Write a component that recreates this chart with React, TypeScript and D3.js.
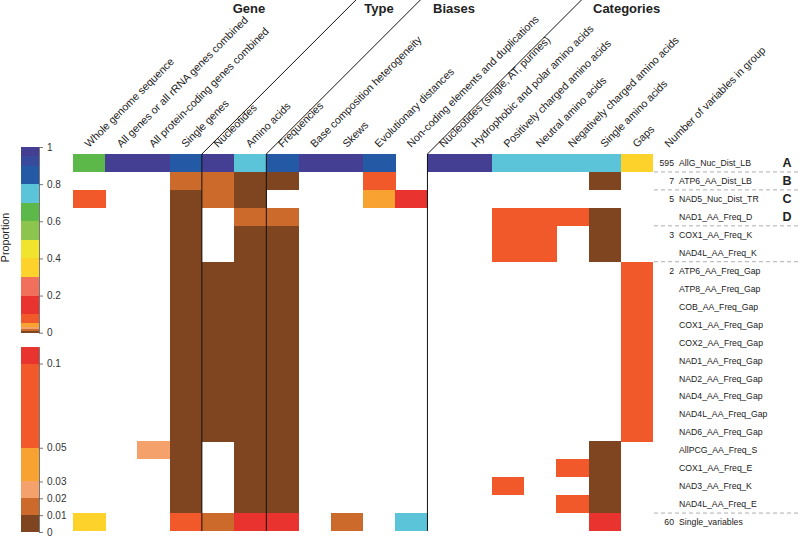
import React, { useEffect, useRef } from "react";
import * as d3 from "d3";

const columns = [
  "Whole genome sequence",
  "All genes or all rRNA genes combined",
  "All protein-coding genes combined",
  "Single genes",
  "Nucleotides",
  "Amino acids",
  "Frequencies",
  "Base composition heterogeneity",
  "Skews",
  "Evolutionary distances",
  "Non-coding elements and duplications",
  "Nucleotides (single, AT, purines)",
  "Hydrophobic and polar amino acids",
  "Positively charged amino acids",
  "Neutral amino acids",
  "Negatively charged amino acids",
  "Single amino acids",
  "Gaps",
];
const countHeader = "Number of variables in group";
const groupHeaders = ["Gene", "Type", "Biases", "Categories"];

const rowNames = [
  "AllG_Nuc_Dist_LB",
  "ATP6_AA_Dist_LB",
  "NAD5_Nuc_Dist_TR",
  "NAD1_AA_Freq_D",
  "COX1_AA_Freq_K",
  "NAD4L_AA_Freq_K",
  "ATP6_AA_Freq_Gap",
  "ATP8_AA_Freq_Gap",
  "COB_AA_Freq_Gap",
  "COX1_AA_Freq_Gap",
  "COX2_AA_Freq_Gap",
  "NAD1_AA_Freq_Gap",
  "NAD2_AA_Freq_Gap",
  "NAD4_AA_Freq_Gap",
  "NAD4L_AA_Freq_Gap",
  "NAD6_AA_Freq_Gap",
  "AllPCG_AA_Freq_S",
  "COX1_AA_Freq_E",
  "NAD3_AA_Freq_K",
  "NAD4L_AA_Freq_E",
  "Single_variables",
];
const groupCounts = ["595", "7", "5", "", "3", "", "2", "", "", "", "", "", "", "", "", "", "", "", "", "", "60"];
const groupLetters = ["A", "B", "C", "D"];
// column indexes before which a separator line is drawn
const dividerCols = [4, 6, 11];
// row indexes after which a dashed line is drawn
const dashedAfterRows = [0, 1, 3, 5, 19];

const _ = null;
const cellValues: (number | null)[][] = [
  [0.65, 0.97, 0.97, 0.85, 0.97, 0.75, 0.85, 0.97, 0.97, 0.85, _, 0.97, 0.97, 0.75, 0.75, 0.75, 0.75, 0.35],
  [_, _, _, 0.015, 0.015, 0.005, 0.005, _, _, 0.07, _, _, _, _, _, _, 0.005, _],
  [0.07, _, _, 0.005, 0.015, 0.005, _, _, _, 0.04, 0.12, _, _, _, _, _, _, _],
  [_, _, _, 0.005, _, 0.015, 0.015, _, _, _, _, _, _, 0.07, 0.07, 0.07, 0.005, _],
  [_, _, _, 0.005, _, 0.005, 0.005, _, _, _, _, _, _, 0.07, 0.07, _, 0.005, _],
  [_, _, _, 0.005, _, 0.005, 0.005, _, _, _, _, _, _, 0.07, 0.07, _, 0.005, _],
  [_, _, _, 0.005, 0.005, 0.005, 0.005, _, _, _, _, _, _, _, _, _, _, 0.07],
  [_, _, _, 0.005, 0.005, 0.005, 0.005, _, _, _, _, _, _, _, _, _, _, 0.07],
  [_, _, _, 0.005, 0.005, 0.005, 0.005, _, _, _, _, _, _, _, _, _, _, 0.07],
  [_, _, _, 0.005, 0.005, 0.005, 0.005, _, _, _, _, _, _, _, _, _, _, 0.07],
  [_, _, _, 0.005, 0.005, 0.005, 0.005, _, _, _, _, _, _, _, _, _, _, 0.07],
  [_, _, _, 0.005, 0.005, 0.005, 0.005, _, _, _, _, _, _, _, _, _, _, 0.07],
  [_, _, _, 0.005, 0.005, 0.005, 0.005, _, _, _, _, _, _, _, _, _, _, 0.07],
  [_, _, _, 0.005, 0.005, 0.005, 0.005, _, _, _, _, _, _, _, _, _, _, 0.07],
  [_, _, _, 0.005, 0.005, 0.005, 0.005, _, _, _, _, _, _, _, _, _, _, 0.07],
  [_, _, _, 0.005, 0.005, 0.005, 0.005, _, _, _, _, _, _, _, _, _, _, 0.07],
  [_, _, 0.025, 0.005, _, 0.005, 0.005, _, _, _, _, _, _, _, _, _, 0.005, _],
  [_, _, _, 0.005, _, 0.005, 0.005, _, _, _, _, _, _, _, _, 0.07, 0.005, _],
  [_, _, _, 0.005, _, 0.005, 0.005, _, _, _, _, _, _, 0.07, _, _, 0.005, _],
  [_, _, _, 0.005, _, 0.005, 0.005, _, _, _, _, _, _, _, _, 0.07, 0.005, _],
  [0.35, _, _, 0.07, 0.015, 0.12, 0.12, _, 0.015, _, 0.75, _, _, _, _, _, 0.12, _],
];

const breaks = [0, 0.01, 0.02, 0.03, 0.05, 0.1, 0.2, 0.3, 0.4, 0.5, 0.6, 0.7, 0.8, 0.9, 0.95, 1];
const palette = [
  "#7e4520", "#cc6a2c", "#f4a16b", "#f8a232", "#f1592b", "#e8332f", "#f0705c",
  "#fdd32b", "#f0e42c", "#8dc44e", "#5cb848", "#5bc4d8", "#2459a6", "#384a9c", "#453f93",
];
const mainTicks = [0, 0.2, 0.4, 0.6, 0.8, 1];
const zoomTicks = [0, 0.01, 0.02, 0.03, 0.05, 0.1];
const zoomMax = 0.11;

const FONT = "'Liberation Sans', Arial, Helvetica, sans-serif";
const TXT = "#222";

export default function App() {
  const axisTop = useRef<SVGGElement>(null);
  const axisBot = useRef<SVGGElement>(null);

  const gridLeft = 73, gridRight = 653, gridTop = 154, gridBottom = 531;
  const x = d3.scaleBand<number>().domain(d3.range(columns.length)).range([gridLeft, gridRight]);
  const y = d3.scaleBand<string>().domain(rowNames).range([gridTop, gridBottom]);
  const color = d3.scaleThreshold<number, string>().domain(breaks.slice(1, -1)).range(palette);

  const barX = 21, barW = 18;
  const yMain = d3.scaleLinear().domain([0, 1]).range([332.7, 147]);
  const yZoom = d3.scaleLinear().domain([0, zoomMax]).range([532, 346.7]);

  useEffect(() => {
    const style = (g: d3.Selection<SVGGElement, unknown, null, undefined>) => {
      g.selectAll(".domain").attr("stroke", "#555").attr("stroke-width", 0.8);
      g.selectAll(".tick line").attr("stroke", "#555").attr("stroke-width", 0.8);
      g.selectAll(".tick text").attr("fill", "#333").style("font-family", FONT).style("font-size", "10px");
    };
    if (axisTop.current) {
      const g = d3.select(axisTop.current);
      g.call(d3.axisRight(yMain).tickValues(mainTicks).tickFormat((d) => String(d)).tickSize(4).tickSizeOuter(0).tickPadding(4));
      style(g);
    }
    if (axisBot.current) {
      const g = d3.select(axisBot.current);
      g.call(d3.axisRight(yZoom).tickValues(zoomTicks).tickFormat((d) => String(d)).tickSize(4).tickSizeOuter(0).tickPadding(4));
      style(g);
    }
  }, []);

  const bw = x.bandwidth();
  const bh = y.bandwidth();

  return (
    <svg
      width={800}
      height={541}
      style={{ position: "absolute", left: 0, top: 0, background: "#fff", fontFamily: FONT }}
    >
      {/* group headers */}
      <g fontWeight="bold" fontSize={13} fill={TXT}>
        <text x={249} y={13} textAnchor="middle">{groupHeaders[0]}</text>
        <text x={379} y={13} textAnchor="middle">{groupHeaders[1]}</text>
        <text x={433} y={13}>{groupHeaders[2]}</text>
        <text x={593} y={13}>{groupHeaders[3]}</text>
      </g>

      {/* column labels */}
      <g fontSize={10.7} fill={TXT}>
        {columns.map((c, i) => (
          <text key={c} transform={`translate(${x(i)! + bw / 2},148) rotate(-45)`}>{c}</text>
        ))}
        <text transform={`translate(${gridRight + bw / 2},148) rotate(-45)`}>{countHeader}</text>
      </g>

      {/* cells */}
      <g shapeRendering="crispEdges">
        {cellValues.map((row, r) =>
          row.map((v, c) =>
            v == null ? null : (
              <rect key={`${r}-${c}`} x={x(c)} y={y(rowNames[r])} width={bw + 0.3} height={bh + 0.3} fill={color(v)} />
            )
          )
        )}
      </g>

      {/* separator lines */}
      <g stroke="#111" strokeWidth={1} fill="none">
        {dividerCols.map((c) => {
          const lx = x(c)!;
          return <path key={c} d={`M${lx},${gridBottom} L${lx},${gridTop} L${lx + gridTop},0`} />;
        })}
      </g>

      {/* dashed group lines */}
      <g stroke="#999" strokeWidth={0.8} strokeDasharray="4,3">
        {dashedAfterRows.map((r) => {
          const ly = y(rowNames[r])! + bh;
          return <line key={r} x1={gridRight + 1} x2={800} y1={ly} y2={ly} />;
        })}
      </g>

      {/* row labels */}
      <g fontSize={8.7} fill={TXT}>
        {rowNames.map((n) => (
          <text key={n} x={679} y={y(n)! + bh / 2 + 3.1}>{n}</text>
        ))}
        {groupCounts.map((n, r) =>
          n ? (
            <text key={`c${r}`} x={674} y={y(rowNames[r])! + bh / 2 + 3.1} textAnchor="end">{n}</text>
          ) : null
        )}
      </g>
      <g fontSize={12.5} fontWeight="bold" fill={TXT}>
        {groupLetters.map((l, r) => (
          <text key={l} x={787} y={y(rowNames[r])! + bh / 2 + 4.5} textAnchor="middle">{l}</text>
        ))}
      </g>

      {/* legend */}
      <text transform="translate(9,237.5) rotate(-90)" textAnchor="middle" fontSize={10.7} fill={TXT}>Proportion</text>
      <g shapeRendering="crispEdges">
        {palette.map((col, i) => (
          <rect
            key={`m${i}`}
            x={barX}
            y={yMain(breaks[i + 1])}
            width={barW}
            height={yMain(breaks[i]) - yMain(breaks[i + 1])}
            fill={col}
          />
        ))}
        {palette.map((col, i) => {
          const lo = breaks[i];
          const hi = Math.min(breaks[i + 1], zoomMax);
          if (lo >= zoomMax) return null;
          return (
            <rect key={`z${i}`} x={barX} y={yZoom(hi)} width={barW} height={yZoom(lo) - yZoom(hi)} fill={col} />
          );
        })}
      </g>
      <g ref={axisTop} transform={`translate(${barX + barW},0)`} />
      <g ref={axisBot} transform={`translate(${barX + barW},0)`} />
    </svg>
  );
}
